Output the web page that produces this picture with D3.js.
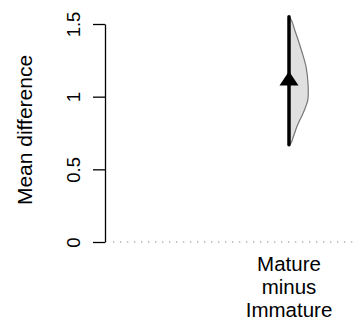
<!DOCTYPE html>
<html><head><meta charset="utf-8">
<script src="https://cdn.jsdelivr.net/npm/d3@7"></script>
<style>body{margin:0;background:#fff}svg{display:block}text{font-family:"Liberation Sans",Arial,sans-serif;fill:#000}</style>
</head><body><svg id="c" width="355" height="322"></svg>
<script>
const groups = ["Mature minus Immature"];
const groupLabelLines = ["Mature", "minus", "Immature"];
const yTicks = [0, 0.5, 1, 1.5];
const yTickLabels = ["0", "0.5", "1", "1.5"];
const meanDiff = [1.11];
const ciLow = [0.67];
const ciHigh = [1.55];
// bootstrap distribution outline (value, relative density)
const densValues = [1.55, 1.542, 1.459, 1.321, 1.204, 1.094, 1.04, 0.985, 0.929, 0.874, 0.805, 0.723, 0.681, 0.67];
const densHeights = [0, 1, 6, 13, 18, 20, 20.3, 20, 17.5, 14, 9, 4.5, 2, 0];

const svg = d3.select("#c");
const y = d3.scaleLinear().domain([0, 1.5]).range([242, 24]);
const x = d3.scaleBand().domain(groups).range([223, 355]);
const w = d3.scaleLinear().domain([0, 20]).range([0, 19]);

// zero reference line
svg.append("line").attr("x1", 113).attr("x2", 355).attr("y1", y(0)).attr("y2", y(0))
  .attr("stroke", "#888").attr("stroke-width", 1.2).attr("stroke-dasharray", "1.3 5.7");

// axis
const axis = d3.axisLeft(y).tickValues(yTicks).tickFormat((d, i) => yTickLabels[i]).tickSize(12).tickSizeOuter(0);
const ga = svg.append("g").attr("transform", "translate(105,0)").call(axis);
ga.select(".domain").attr("stroke", "#000").attr("stroke-width", 1.3);
ga.selectAll(".tick line").attr("stroke", "#000").attr("stroke-width", 1.3);
ga.selectAll(".tick text").attr("x", 0).attr("dy", 0)
  .attr("transform", "translate(-25,0) rotate(-90)")
  .attr("text-anchor", "middle").style("font-size", "18.5px")
  .style("font-family", '"Liberation Sans",Arial,sans-serif').attr("fill", "#000");

// y title
svg.append("text").attr("transform", "translate(32,130) rotate(-90)")
  .attr("text-anchor", "middle").style("font-size", "21px").text("Mean difference");

// x labels
groups.forEach(g => {
  const cx = x(g) + x.bandwidth() / 2;
  groupLabelLines.forEach((t, i) => {
    svg.append("text").attr("x", cx).attr("y", 271 + i * 23)
      .attr("text-anchor", "middle").style("font-size", "20.5px").text(t);
  });

  // half violin
  const pts = densValues.map((v, i) => [v, densHeights[i]]);
  const area = d3.area()
    .y(d => y(d[0])).x0(cx).x1(d => cx + w(d[1])).curve(d3.curveMonotoneY);
  svg.append("path").datum(pts).attr("d", area).attr("fill", "#e0e0e0").attr("stroke", "none");
  const outline = d3.line().y(d => y(d[0])).x(d => cx + w(d[1])).curve(d3.curveMonotoneY);
  svg.append("path").datum(pts).attr("d", outline).attr("fill", "none").attr("stroke", "#777").attr("stroke-width", 1.2);

  // CI line
  svg.append("line").attr("x1", cx).attr("x2", cx).attr("y1", y(ciLow[0])).attr("y2", y(ciHigh[0]))
    .attr("stroke", "#000").attr("stroke-width", 3.5).attr("stroke-linecap", "round");

  // triangle
  const cy = y(meanDiff[0]);
  svg.append("path").attr("d", `M${cx},${cy - 9.5}L${cx + 9.5},${cy + 4.8}L${cx - 9.5},${cy + 4.8}Z`).attr("fill", "#000");
});
</script></body></html>
